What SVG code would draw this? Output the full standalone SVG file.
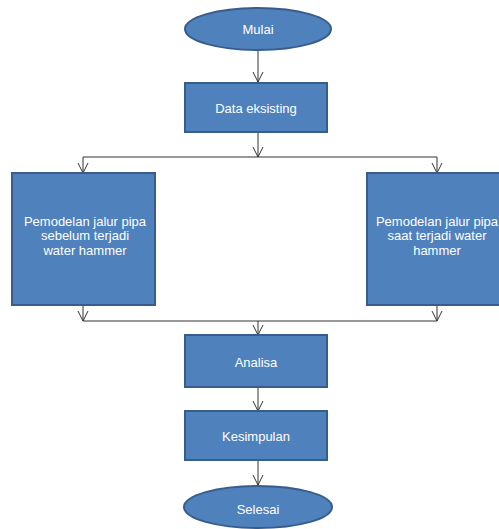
<svg xmlns="http://www.w3.org/2000/svg" width="499" height="529" viewBox="0 0 499 529">
<style>
.n{fill:#4F81BD;stroke:#385D8A;stroke-width:2}
.t{fill:#fff;font-family:"Liberation Sans",Arial,sans-serif;font-size:13px;text-anchor:middle}
.c{fill:none;stroke:#333;stroke-width:1}
</style>
<defs>
<marker id="a" viewBox="0 0 12 12" refX="11" refY="6" markerWidth="12" markerHeight="12" markerUnits="userSpaceOnUse" orient="auto">
<path d="M1,1 L11,6 L1,11" fill="none" stroke="#333" stroke-width="1"/>
</marker>
</defs>
<rect width="499" height="529" fill="#fff"/>
<g id="connectors">
<path class="c" d="M258,50 V82" marker-end="url(#a)"/>
<path class="c" d="M258,132 V157" marker-end="url(#a)"/>
<path class="c" d="M83,157 H437"/>
<path class="c" d="M83,157 V173" marker-end="url(#a)"/>
<path class="c" d="M437,157 V173" marker-end="url(#a)"/>
<path class="c" d="M83,305 V321" marker-end="url(#a)"/>
<path class="c" d="M437,305 V321" marker-end="url(#a)"/>
<path class="c" d="M83,321 H437"/>
<path class="c" d="M258,321 V335" marker-end="url(#a)"/>
<path class="c" d="M258,387 V411" marker-end="url(#a)"/>
<path class="c" d="M258,460 V485" marker-end="url(#a)"/>
</g>
<g id="mulai">
<ellipse class="n" cx="258" cy="29" rx="73" ry="21"/>
<text class="t" x="258" y="34">Mulai</text>
</g>
<g id="data">
<rect class="n" x="185" y="83" width="142" height="49"/>
<text class="t" x="256" y="113">Data eksisting</text>
</g>
<g id="sebelum">
<rect class="n" x="12" y="173" width="143" height="132"/>
<text class="t" x="85" y="225.5"><tspan x="85">Pemodelan jalur pipa</tspan><tspan x="85" dy="14.6">sebelum terjadi</tspan><tspan x="85" dy="14.6">water hammer</tspan></text>
</g>
<g id="saat">
<rect class="n" x="367" y="173" width="133" height="132"/>
<text class="t" x="437" y="225.5"><tspan x="437">Pemodelan jalur pipa</tspan><tspan x="437" dy="14.6">saat terjadi water</tspan><tspan x="437" dy="14.6">hammer</tspan></text>
</g>
<g id="analisa">
<rect class="n" x="185" y="335" width="142" height="52"/>
<text class="t" x="256" y="367">Analisa</text>
</g>
<g id="kesimpulan">
<rect class="n" x="185" y="411" width="142" height="49"/>
<text class="t" x="256" y="441">Kesimpulan</text>
</g>
<g id="selesai">
<ellipse class="n" cx="258" cy="507" rx="74" ry="21"/>
<text class="t" x="258" y="514">Selesai</text>
</g>
</svg>
